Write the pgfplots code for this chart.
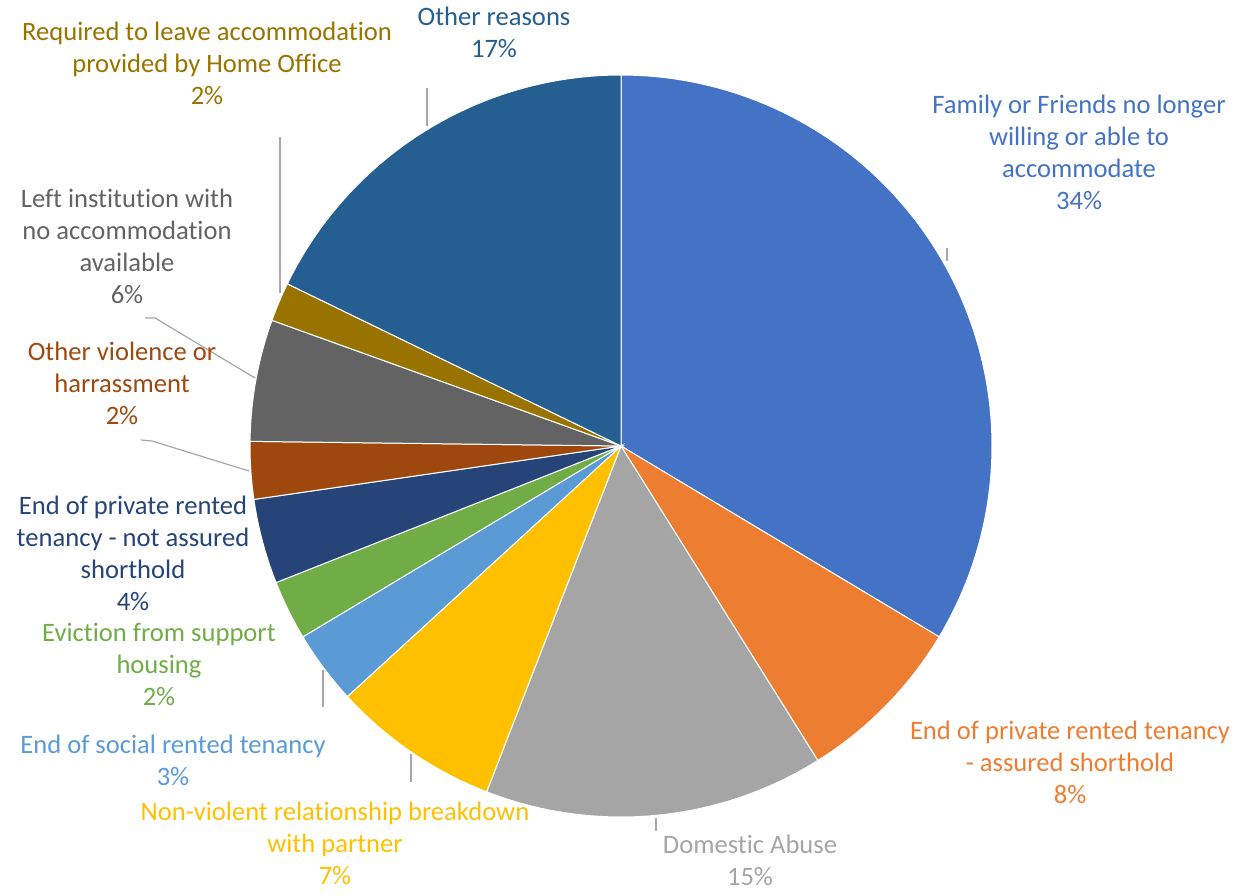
\documentclass[border=0pt]{standalone}
\usepackage{fontspec}
\setmainfont[Ligatures={NoCommon}]{Carlito}
\usepackage{pgfplots}
\pgfplotsset{compat=1.18}
\definecolor{cFam}{HTML}{4472C4}
\definecolor{cPRA}{HTML}{ED7D31}
\definecolor{cDom}{HTML}{A5A5A5}
\definecolor{cNV}{HTML}{FFC000}
\definecolor{cSoc}{HTML}{5B9BD5}
\definecolor{cEvi}{HTML}{70AD47}
\definecolor{cPRN}{HTML}{264478}
\definecolor{cViol}{HTML}{9E480E}
\definecolor{cInst}{HTML}{636363}
\definecolor{cHO}{HTML}{997300}
\definecolor{cOth}{HTML}{255E91}
\definecolor{cLead}{HTML}{A6A6A6}
% slice: start and end as cumulative percentages (clockwise from 12 o'clock)
\newcommand{\slice}[3]{\addplot[fill=#3, draw=white, line width=0.5pt, domain=#1*3.6:#2*3.6, samples=90, variable=\t]
  ({621+371*sin(\t)}, {448+371*cos(\t)}) -- (axis cs:621,448) -- cycle;}
\tikzset{lab/.style={anchor=north, align=center, inner sep=0pt, font=\fontsize{13.3}{16}\selectfont}}
\begin{document}
\begin{tikzpicture}
\begin{axis}[x=0.5pt, y=0.5pt, xmin=0, xmax=1234, ymin=0, ymax=894, hide axis, clip=false]
\path (axis cs:0,0) rectangle (axis cs:1234,894);
% shares (%): 33.6, 7.5, 14.8, 7.3, 3.2, 2.6, 3.7, 2.5, 5.3, 1.7, 17.8
\slice{0}{33.6}{cFam}
\slice{33.6}{41.1}{cPRA}
\slice{41.1}{55.9}{cDom}
\slice{55.9}{63.2}{cNV}
\slice{63.2}{66.4}{cSoc}
\slice{66.4}{69.0}{cEvi}
\slice{69.0}{72.7}{cPRN}
\slice{72.7}{75.2}{cViol}
\slice{75.2}{80.5}{cInst}
\slice{80.5}{82.2}{cHO}
\slice{82.2}{100}{cOth}
% leader lines
\addplot[cLead, line width=0.6pt] coordinates {(427,806) (427,768)};
\addplot[cLead, line width=0.6pt] coordinates {(280,757) (280,601)};
\addplot[cLead, line width=0.6pt] coordinates {(947,646) (947,633)};
\addplot[cLead, line width=0.6pt] coordinates {(145,576) (155,576) (255,516)};
\addplot[cLead, line width=0.6pt] coordinates {(141,454) (152,453) (249,423)};
\addplot[cLead, line width=0.6pt] coordinates {(323,224) (323,187)};
\addplot[cLead, line width=0.6pt] coordinates {(411,140) (411,112)};
\addplot[cLead, line width=0.6pt] coordinates {(656,76) (656,63)};
% labels
\node[lab, text=cOth] at (axis cs:494,887) {Other reasons\\17\%};
\node[lab, text=cHO] at (axis cs:207,872) {Required to leave accommodation\\provided by Home Office\\2\%};
\node[lab, text=cFam] at (axis cs:1079,799) {Family or Friends no longer\\willing or able to\\accommodate\\34\%};
\node[lab, text=cInst] at (axis cs:127,705) {Left institution with\\no accommodation\\available\\6\%};
\node[lab, text=cViol] at (axis cs:122,552) {Other violence or\\harrassment\\2\%};
\node[lab, text=cPRN] at (axis cs:133,398) {End of private rented\\tenancy - not assured\\shorthold\\4\%};
\node[lab, text=cEvi] at (axis cs:159,271) {Eviction from support\\housing\\2\%};
\node[lab, text=cSoc] at (axis cs:173,159) {End of social rented tenancy\\3\%};
\node[lab, text=cNV] at (axis cs:335,92) {Non-violent relationship breakdown\\with partner\\7\%};
\node[lab, text=cDom] at (axis cs:750,59) {Domestic Abuse\\15\%};
\node[lab, text=cPRA] at (axis cs:1070,173) {End of private rented tenancy\\- assured shorthold\\8\%};
\end{axis}
\end{tikzpicture}
\end{document}
